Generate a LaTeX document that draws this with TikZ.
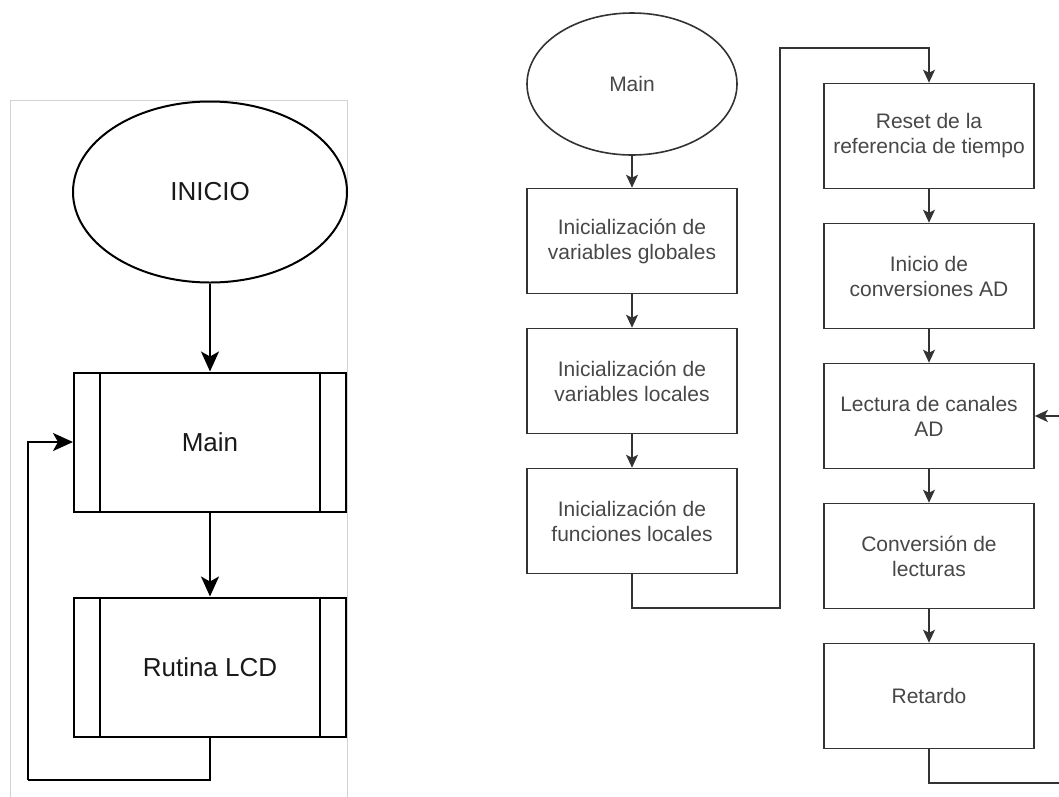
\documentclass[tikz,border=0pt]{standalone}
\usepackage{fontspec}
\setmainfont{Liberation Sans}
\usetikzlibrary{
	arrows.meta,
	shapes.geometric
}

\tikzset{
	grandeL/.style={draw, line width=2pt, text=black!90,
		font=\fontsize{26}{31}\selectfont},
	procL/.style={grandeL, rectangle, minimum width=272, minimum height=139},
	flechaL/.style={line width=2pt, -{Stealth[length=20pt,width=18pt,inset=5pt]}},
	cajaR/.style={draw=black!80, line width=1.6pt, text=black!72, align=center,
		font=\fontsize{21}{25}\selectfont, rectangle, minimum width=210, minimum height=105},
	flechaR/.style={draw=black!80, line width=1.6pt, -{Stealth[length=13pt,width=12pt,inset=3pt]}}
}

\begin{document}
\begin{tikzpicture}[x=1pt, y=-1pt]
	\useasboundingbox (0,0) rectangle (1059,796);
	% 边框
	\draw[gray!35, line width=1pt] (10,100) rectangle (347,810);
	% 左侧流程
	\node[grandeL, ellipse, minimum width=274, minimum height=181] (inicio) at (210,192) {INICIO};
	\node[procL] (main) at (210,442) {Main};
	\node[procL] (lcd) at (210,667) {Rutina LCD};
	\foreach \n in {main,lcd} {
		\draw[line width=2pt] ([xshift=27]\n.north west) -- ([xshift=27]\n.south west);
		\draw[line width=2pt] ([xshift=-27]\n.north east) -- ([xshift=-27]\n.south east);
	}
	\draw[flechaL] (inicio) -- (main);
	\draw[flechaL] (main) -- (lcd);
	\coordinate (vueltaL) at (28,780);
	\draw[line width=2pt] (lcd.south) |- (vueltaL);
	\draw[flechaL] (vueltaL) |- (main.west);
	% 右侧流程（第一列）
	\node[cajaR, ellipse, minimum width=210, minimum height=142] (mainR) at (632,84) {Main};
	\node[cajaR] (globales) at (632,241) {Inicialización de\\variables globales};
	\node[cajaR] (locales) at (632,381) {Inicialización de\\variables locales};
	\node[cajaR] (funciones) at (632,521) {Inicialización de\\funciones locales};
	% 右侧流程（第二列）
	\node[cajaR] (reset) at (929,136) {Reset de la\\referencia de tiempo};
	\node[cajaR] (conv) at (929,276) {Inicio de\\conversiones AD};
	\node[cajaR] (lectura) at (929,416) {Lectura de canales\\AD};
	\node[cajaR] (lecturas) at (929,556) {Conversión de\\lecturas};
	\node[cajaR] (retardo) at (929,696) {Retardo};
	% 连线
	\draw[flechaR] (mainR) -- (globales);
	\draw[flechaR] (globales) -- (locales);
	\draw[flechaR] (locales) -- (funciones);
	\coordinate (salto1) at (780,608);
	\coordinate (salto2) at (780,48);
	\draw[flechaR] (funciones.south) |- (salto1) -- (salto2) -| (reset.north);
	\draw[flechaR] (reset) -- (conv);
	\draw[flechaR] (conv) -- (lectura);
	\draw[flechaR] (lectura) -- (lecturas);
	\draw[flechaR] (lecturas) -- (retardo);
	\coordinate (vueltaR) at (1062,783);
	\draw[flechaR] (retardo.south) |- (vueltaR) |- (lectura.east);
\end{tikzpicture}
\end{document}
